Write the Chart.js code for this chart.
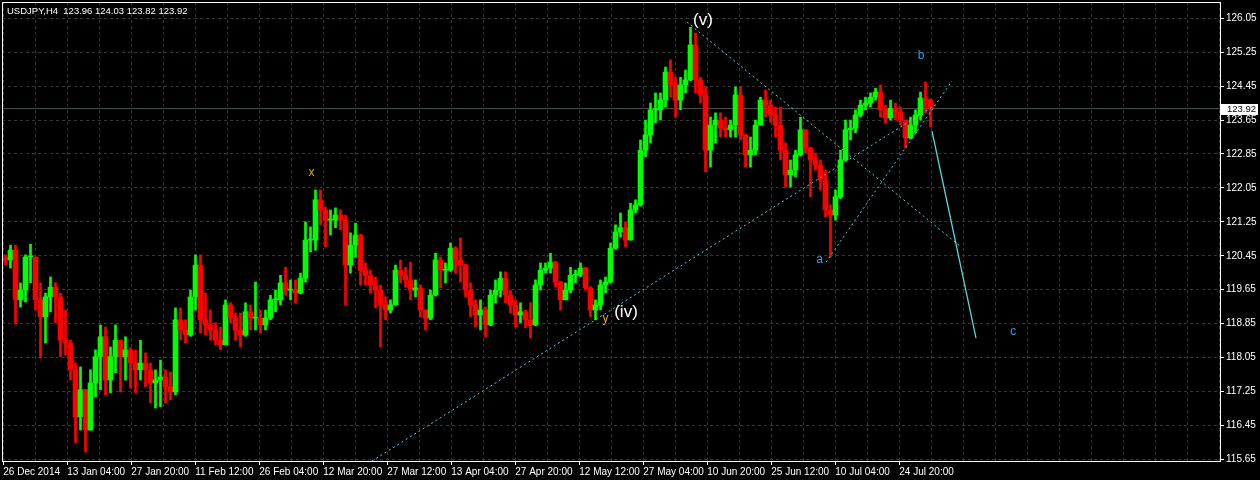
<!DOCTYPE html>
<html><head><meta charset="utf-8">
<script src="https://cdn.jsdelivr.net/npm/chart.js@4.4.1/dist/chart.umd.min.js"></script>
<style>html,body{margin:0;padding:0;background:#000;overflow:hidden}canvas{display:block}</style>
</head><body>
<canvas id="c" width="1260" height="480"></canvas>
<script>
// ---- data (USDJPY H4, each candle = 5 H4 bars) ----
const symbolTitle = 'USDJPY,H4  123.96 124.03 123.82 123.92';
const lastPrice = 123.92;
const barsPerCandle = 5;
const firstBar = 1;
const firstOpen = 120.40;

const highs = [
120.47,120.70,120.70,119.81,120.47,120.72,120.42,119.81,119.57,119.95,
119.81,119.57,119.17,118.46,117.92,117.83,117.30,117.76,118.23,118.82,
118.77,118.30,118.82,118.30,118.54,118.28,118.23,118.46,118.16,117.92,
117.76,117.99,117.76,117.71,119.22,119.22,118.94,119.64,120.47,120.47,
119.57,119.17,118.87,118.77,119.41,119.34,119.10,119.10,119.34,119.29,
119.83,119.17,119.17,119.52,119.64,119.99,120.18,119.88,119.88,120.04,
121.25,121.13,122.00,122.00,121.60,121.53,121.58,121.53,121.41,120.99,
121.22,120.96,120.28,120.11,119.95,119.76,119.48,119.41,120.23,120.35,
120.18,120.30,119.88,119.76,119.17,119.64,120.51,120.42,120.28,120.75,
120.66,120.87,120.25,119.81,119.41,119.41,119.24,119.64,119.88,120.07,
120.07,119.64,119.41,119.34,119.17,119.34,119.88,120.28,120.28,120.51,
120.32,119.85,119.81,120.18,120.11,120.28,120.18,119.72,119.41,119.88,
119.95,120.75,121.18,121.46,121.25,121.69,121.77,123.18,123.65,124.05,
124.29,124.29,124.90,125.07,124.66,124.66,124.83,125.84,125.70,124.66,
124.43,123.72,123.82,123.82,123.72,123.65,124.43,124.43,123.32,123.25,
123.65,124.19,124.36,124.12,123.96,123.96,123.11,122.71,122.94,123.72,
123.42,123.01,122.87,122.71,122.47,121.65,122.00,122.94,123.65,123.65,
123.89,124.12,124.19,124.29,124.40,124.48,124.00,124.12,124.05,123.96,
123.65,123.72,123.89,124.31,124.55,124.15
];
const lows = [
120.23,120.16,118.84,119.24,119.36,119.81,119.17,118.04,118.39,119.13,
118.87,118.07,118.11,117.52,116.04,116.34,115.82,116.34,117.12,117.29,
117.17,117.22,117.69,117.24,117.52,117.33,117.22,117.52,117.36,116.98,
116.86,116.89,116.98,117.05,117.17,118.46,118.39,118.55,119.17,118.63,
118.58,118.46,118.35,118.23,118.35,118.87,118.46,118.30,118.55,118.70,
118.70,118.63,118.70,118.94,119.13,119.29,119.52,119.41,119.34,119.55,
119.83,120.54,120.58,121.18,120.66,120.94,121.11,121.06,119.29,120.04,
120.42,119.76,119.76,119.57,119.22,118.30,118.94,119.10,119.29,119.81,
119.71,119.41,119.48,119.01,118.70,118.94,119.50,119.69,119.81,120.08,
120.04,119.83,119.48,119.01,118.77,118.70,118.54,118.80,119.34,119.48,
119.34,119.10,118.77,118.87,118.75,118.51,118.80,119.64,120.04,120.04,
119.71,119.17,119.41,119.57,119.81,119.95,119.64,119.01,118.94,119.17,
119.57,119.80,120.60,120.89,120.66,120.82,121.46,121.62,122.78,123.11,
123.58,123.65,123.96,124.19,123.72,123.89,124.29,124.58,124.29,124.05,
122.43,122.54,123.11,123.25,123.25,123.25,123.25,123.18,122.54,122.54,
122.83,123.53,123.72,123.60,123.25,122.71,122.07,122.07,122.31,122.80,
122.87,121.84,122.47,122.00,121.37,120.42,121.29,121.80,122.68,123.18,
123.35,123.72,123.89,123.96,124.12,123.72,123.58,123.65,123.65,123.53,
122.99,123.20,123.35,123.65,123.82,123.49
];
const closes = [
120.35,120.58,119.41,119.64,120.42,120.42,119.41,119.01,119.48,119.71,
119.48,118.46,118.39,117.76,116.65,117.29,116.34,117.45,118.07,118.54,
117.52,118.07,118.46,118.07,118.23,117.92,117.76,117.92,117.76,117.45,
117.52,117.59,117.36,117.24,118.94,118.70,118.58,119.48,120.23,118.94,
118.82,118.70,118.46,118.35,119.29,118.98,118.70,118.58,119.13,118.98,
118.98,118.82,118.98,119.41,119.41,119.81,119.64,119.64,119.57,119.92,
120.82,120.82,121.77,121.53,121.29,121.29,121.41,121.29,120.23,120.70,
120.94,120.11,119.99,119.76,119.64,119.29,119.17,119.29,120.11,119.99,
119.88,119.64,119.69,119.17,118.98,119.52,120.35,120.11,120.11,120.63,
120.35,120.23,119.64,119.29,119.05,119.17,118.82,119.52,119.64,119.92,
119.52,119.29,119.05,119.13,118.94,118.82,119.76,120.11,120.16,120.30,
119.83,119.41,119.64,119.99,119.99,120.16,119.69,119.17,119.29,119.76,
119.83,120.63,121.01,121.11,120.82,121.53,121.65,122.94,123.30,123.89,
123.89,124.12,124.78,124.48,124.12,124.48,124.60,125.42,124.60,124.24,
122.94,123.53,123.65,123.46,123.42,123.53,124.24,123.30,122.83,122.94,
123.53,124.12,124.00,123.77,123.53,122.94,122.36,122.47,122.83,123.42,
122.99,122.71,122.59,122.24,121.53,121.41,121.84,122.71,123.42,123.46,
123.77,124.00,124.05,124.19,124.31,123.89,123.70,123.93,123.84,123.65,
123.23,123.53,123.77,124.17,124.12,123.92
];

const yTicks = [115.65,116.45,117.25,118.05,118.85,119.65,120.45,121.25,122.05,122.85,123.65,124.45,125.25,126.05];
const xTickLabels = ['26 Dec 2014','13 Jan 04:00','27 Jan 20:00','11 Feb 12:00','26 Feb 04:00','12 Mar 20:00','27 Mar 12:00','13 Apr 04:00','27 Apr 20:00','12 May 12:00','27 May 04:00','10 Jun 20:00','25 Jun 12:00','10 Jul 04:00','24 Jul 20:00'];
const xLabelFirstBar = 1.3;
const barsPerLabel = 64;

// wave lines: [bar, price] end points
const lineIV = [[370, 115.61], [933, 124.00]];
const lineV = [[685, 125.96], [958, 120.68]];
const lineA = [[824, 120.30], [950, 124.57]];
const lineC = [[930, 123.39], [974, 118.51]];

const waveLabelText = ['(v)', '(iv)', 'x', 'y', 'a', 'b', 'c'];
const waveLabelBar = [701, 624, 309.5, 603.5, 817.5, 919, 1011.3];
const waveLabelPrice = [126.01, 119.11, 122.41, 118.96, 120.36, 125.17, 118.65];

// ---- presentation ----
const FONT = '"Liberation Sans", Arial, sans-serif';
const gridColor = '#2d3a32';
const upColor = '#00ff00', downColor = '#ff0000';
const labelStyle = {
  '(v)': {color: '#ffffff', size: 17}, '(iv)': {color: '#ffffff', size: 17},
  'x': {color: '#daa520', size: 12}, 'y': {color: '#daa520', size: 12},
  'a': {color: '#2a9fe6', size: 12}, 'b': {color: '#2a9fe6', size: 12}, 'c': {color: '#2a9fe6', size: 12}
};

const opens = closes.map((c, i) => i === 0 ? firstOpen : closes[i - 1]);
const candleX = closes.map((_, i) => firstBar + barsPerCandle * i + barsPerCandle / 2);
const colors = closes.map((c, i) => c >= opens[i] ? upColor : downColor);
const wickData = candleX.map((x, i) => ({x, y: [lows[i], highs[i]]}));
const bodyData = candleX.map((x, i) => ({x, y: [opens[i], closes[i]]}));
const pts = arr => arr.map(p => ({x: p[0], y: p[1]}));

const X_MAX = 1218;

const overlay = {
  id: 'overlay',
  beforeDraw(chart) {
    const c = chart.ctx; c.save(); c.fillStyle = '#000'; c.fillRect(0, 0, chart.width, chart.height); c.restore();
  },
  afterDatasetsDraw(chart) {
    const c = chart.ctx, xs = chart.scales.x, ys = chart.scales.y;
    c.save();
    c.textAlign = 'center'; c.textBaseline = 'middle';
    waveLabelText.forEach((t, i) => {
      const st = labelStyle[t];
      c.font = st.size + 'px ' + FONT;
      c.fillStyle = st.color;
      c.fillText(t, xs.getPixelForValue(waveLabelBar[i]), ys.getPixelForValue(waveLabelPrice[i]));
    });
    c.restore();
  },
  afterDraw(chart) {
    const c = chart.ctx, a = chart.chartArea, ys = chart.scales.y;
    c.save();
    c.strokeStyle = '#ffffff'; c.lineWidth = 1;
    c.strokeRect(a.left + 0.5, a.top + 0.5, a.right - a.left, a.bottom - a.top);
    c.font = '9.5px ' + FONT; c.fillStyle = '#ffffff';
    c.textAlign = 'left'; c.textBaseline = 'middle';
    c.fillText(symbolTitle, 7, 11);
    const py = ys.getPixelForValue(lastPrice);
    c.fillStyle = '#ffffff';
    c.fillRect(a.right + 1, Math.round(py) - 5, 37, 11);
    c.fillStyle = '#000000';
    c.fillText(lastPrice.toFixed(2), a.right + 7, py + 0.5);
    c.restore();
  }
};

new Chart(document.getElementById('c'), {
  type: 'bar',
  data: {
    datasets: [
      {type: 'line', data: [{x: 0, y: lastPrice}, {x: X_MAX, y: lastPrice}], borderColor: '#4a544f', borderWidth: 1, pointRadius: 0, order: 10},
      {type: 'bar', data: wickData, backgroundColor: colors, borderWidth: 0, barThickness: 2, grouped: false, order: 6},
      {type: 'bar', data: bodyData, backgroundColor: colors, borderWidth: 0, barThickness: 5, minBarLength: 1, grouped: false, order: 5},
      {type: 'line', data: pts(lineIV), borderColor: '#48d4e4', borderWidth: 1, borderDash: [2, 3], pointRadius: 0, order: 1},
      {type: 'line', data: pts(lineV), borderColor: '#48d4e4', borderWidth: 1, borderDash: [2, 3], pointRadius: 0, order: 1},
      {type: 'line', data: pts(lineA), borderColor: '#48d4e4', borderWidth: 1, borderDash: [2, 3], pointRadius: 0, order: 1},
      {type: 'line', data: pts(lineC), borderColor: '#5cd8da', borderWidth: 1.3, pointRadius: 0, order: 1}
    ]
  },
  options: {
    responsive: false, devicePixelRatio: 1, animation: false,
    layout: {padding: {top: 2, left: 2, right: 0, bottom: 0}},
    plugins: {legend: {display: false}, tooltip: {enabled: false}, title: {display: false}},
    events: [],
    scales: {
      x: {
        type: 'linear', position: 'bottom', min: 0, max: X_MAX, offset: false, bounds: 'data',
        grid: {offset: false, color: gridColor, lineWidth: 1, drawTicks: true, tickLength: 4, tickWidth: 1, tickBorderDash: [],
          tickColor: ctx => (ctx.index % 2 === 0 && ctx.index / 2 < xTickLabels.length) ? '#ffffff' : 'rgba(0,0,0,0)'},
        border: {display: false, dash: [3, 3]},
        ticks: {autoSkip: false, maxRotation: 0, minRotation: 0, align: 'start', color: '#ffffff', padding: 1,
          font: {family: FONT, size: 10},
          callback: (v, i) => (i % 2 === 0 && xTickLabels[i / 2]) ? xTickLabels[i / 2] : ''},
        afterBuildTicks: s => {
          const t = [];
          for (let v = xLabelFirstBar; v <= X_MAX; v += barsPerLabel / 2) t.push({value: v});
          s.ticks = t;
        },
        afterFit: s => { s.height = 19; s.paddingLeft = 0; s.paddingRight = 0; }
      },
      y: {
        type: 'linear', position: 'right', min: 115.61, max: 126.434, beginAtZero: false, bounds: 'data',
        grid: {color: gridColor, lineWidth: 1, drawTicks: true, tickLength: 4, tickWidth: 1, tickColor: '#ffffff', tickBorderDash: []},
        border: {display: false, dash: [3, 3]},
        ticks: {autoSkip: false, color: '#ffffff', padding: 2, crossAlign: 'near', font: {family: FONT, size: 10},
          callback: v => Number(v).toFixed(2)},
        afterBuildTicks: s => { s.ticks = yTicks.map(v => ({value: v})); },
        afterFit: s => { s.width = 40; s.paddingTop = 0; s.paddingBottom = 0; }
      }
    }
  },
  plugins: [overlay]
});
</script>
</body></html>
